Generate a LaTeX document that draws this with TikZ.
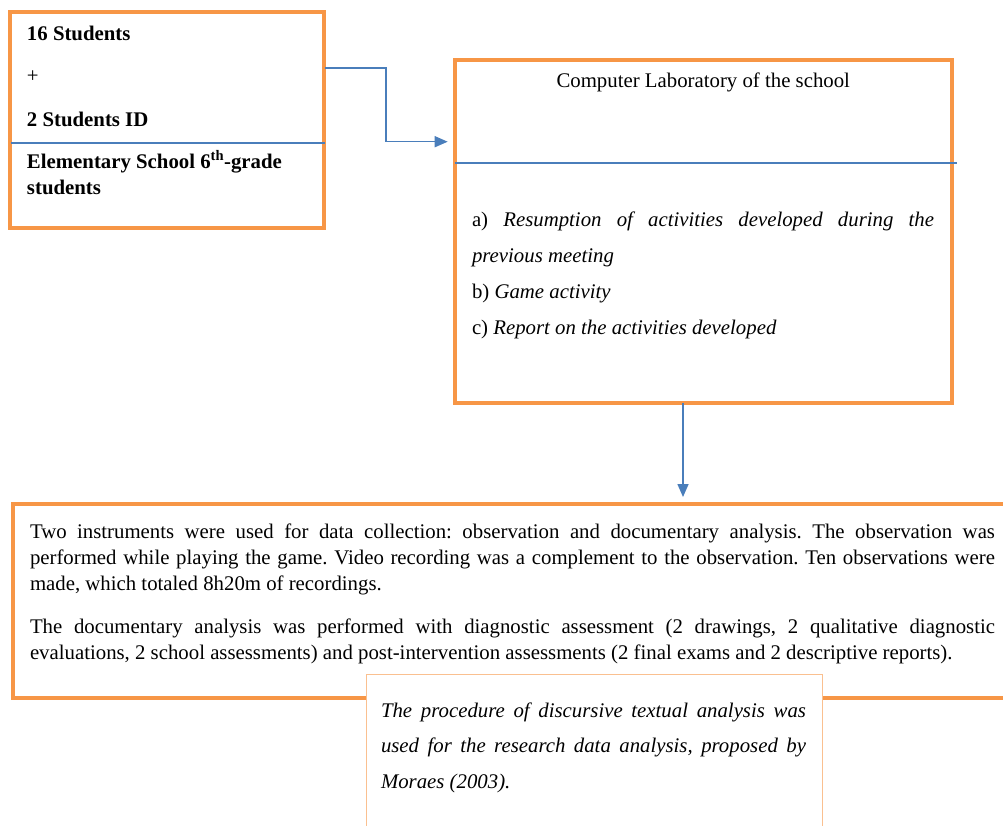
\documentclass[tikz,border=0pt]{standalone}
\usepackage{fontspec}
\setmainfont{Liberation Serif}
\usetikzlibrary{arrows.meta}
\definecolor{boxorange}{HTML}{F79646}
\definecolor{lineblue}{HTML}{4A7EBB}
\definecolor{paleorange}{HTML}{FAC090}
\frenchspacing
\begin{document}
\frenchspacing
\begin{tikzpicture}[x=1pt,y=-1pt,
  obox/.style={draw=boxorange, line width=4pt, fill=white, inner sep=0pt, outer sep=0pt},
  pbox/.style={draw=paleorange, line width=1pt, fill=white, inner sep=0pt, outer sep=0pt},
  divider/.style={draw=lineblue, line width=1.5pt},
  conn/.style={draw=lineblue, line width=1.5pt, -{Triangle[length=13pt,width=11pt]}},
  txt/.style={inner sep=0pt, outer sep=0pt, anchor=base west, font=\fontsize{20.8}{26}\selectfont},
]
\useasboundingbox (0,0) rectangle (1003,825);
\clip (0,0) rectangle (1003,825);
% boxes
\node[obox, minimum width=313.5pt, minimum height=216pt] (b1) at (166.75,120) {};
\node[obox, minimum width=496.5pt, minimum height=342.5pt] (b2) at (703.25,231.25) {};
\node[obox, minimum width=1002.5pt, minimum height=194pt] (b3) at (513.75,601) {};
\node[pbox, minimum width=456pt, minimum height=160pt] (b4) at (594,754) {};
% dividers
\coordinate (d1a) at (11,143);
\coordinate (d1b) at (325,143);
\draw[divider] (d1a) -- (d1b);
\coordinate (d2a) at (455,163);
\coordinate (d2b) at (957,163);
\draw[divider] (d2a) -- (d2b);
% connectors
\coordinate (a1s) at (325,68);
\coordinate (a1t) at (447.7,141.7);
\draw[conn] (a1s) -- (386,68) |- (a1t);
\coordinate (a2s) at (683,402.5);
\coordinate (a2t) at (683,497);
\draw[conn] (a2s) -- (a2t);
% box 1 text
\node[txt, font=\fontsize{20.8}{26}\selectfont\bfseries] (s16) at (27,40) {16 Students};
\node[txt] (plus) at (27,82) {+};
\node[txt, font=\fontsize{20.8}{26}\selectfont\bfseries] (sid) at (27,126) {2 Students ID};
\node[txt] (elem) at (27,168) {\parbox[t]{290pt}{\fontsize{20.8}{26}\selectfont\bfseries\raggedright Elementary School 6\textsuperscript{th}-grade\\students}};
% box 2 text
\node[txt, anchor=base] (lab) at (703.25,87) {Computer Laboratory of the school};
\node[txt] (list) at (472,226) {\parbox[t]{462pt}{\fontsize{20.8}{36.3}\selectfont
a) \textit{Resumption of activities developed during the\linebreak previous meeting}\par
b) \textit{Game activity}\par
c) \textit{Report on the activities developed}}};
% box 3 text
\node[txt] (p1) at (30,538) {\parbox[t]{965pt}{\fontsize{20.8}{26}\selectfont
Two instruments were used for data collection: observation and documentary analysis. The observation was\linebreak performed while playing the game. Video recording was a complement to the observation. Ten observations were\linebreak made, which totaled 8h20m of recordings.}};
\node[txt] (p2) at (30,633) {\parbox[t]{965pt}{\fontsize{20.8}{26}\selectfont
The documentary analysis was performed with diagnostic assessment (2 drawings, 2 qualitative diagnostic\linebreak evaluations, 2 school assessments) and post-intervention assessments (2 final exams and 2 descriptive reports).}};
% box 4 text
\node[txt] (p3) at (381,717) {\parbox[t]{425pt}{\fontsize{20.8}{35.5}\selectfont\itshape
The procedure of discursive textual analysis was\linebreak used for the research data analysis, proposed by\linebreak Moraes (2003).}};
\end{tikzpicture}
\end{document}
